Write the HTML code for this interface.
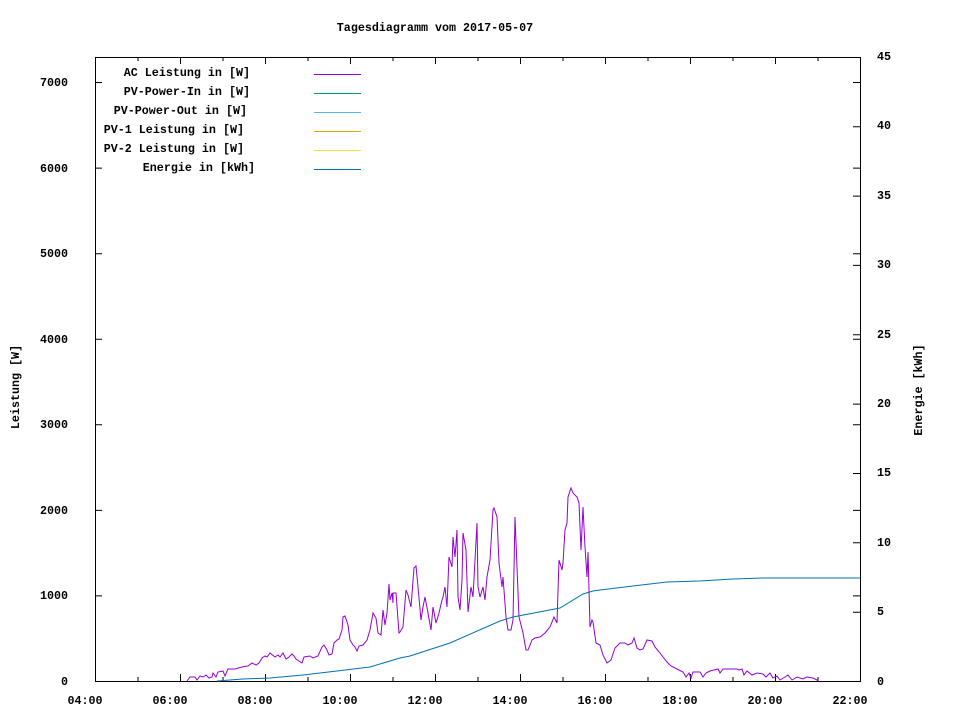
<!DOCTYPE html>
<html><head><meta charset="utf-8"><style>
body{margin:0;background:#fff;}
svg text{font-family:"Liberation Mono",monospace;font-weight:bold;font-size:11.7px;fill:#000;}
</style></head><body>
<svg width="960" height="720" viewBox="0 0 960 720" xmlns="http://www.w3.org/2000/svg">
<rect width="960" height="720" fill="#fff"/>
<text x="435" y="31" text-anchor="middle">Tagesdiagramm vom 2017-05-07</text>
<path fill="none" stroke="#000" stroke-width="1" d="
M95.5,681V674 M138,681V677 M180.5,681V674 M223,681V677 M265.5,681V674 M308,681V677 M350.5,681V674 M393,681V677 M435.5,681V674 M478,681V677 M520.5,681V674 M563,681V677 M605.5,681V674 M648,681V677 M690.5,681V674 M733,681V677 M775.5,681V674 M818,681V677 M860.5,681V674
M95.5,57V64 M138,57V61 M180.5,57V64 M223,57V61 M265.5,57V64 M308,57V61 M350.5,57V64 M393,57V61 M435.5,57V64 M478,57V61 M520.5,57V64 M563,57V61 M605.5,57V64 M648,57V61 M690.5,57V64 M733,57V61 M775.5,57V64 M818,57V61 M860.5,57V64
M95,595.9H102 M95,510.4H102 M95,424.8H102 M95,339.2H102 M95,253.7H102 M95,168.1H102 M95,82.5H102
M860,595.9H853 M860,510.4H853 M860,424.8H853 M860,339.2H853 M860,253.7H853 M860,168.1H853 M860,82.5H853
M860,612.2H853 M860,542.8H853 M860,473.5H853 M860,404.1H853 M860,334.8H853 M860,265.4H853 M860,196.1H853 M860,126.7H853"/>
<rect x="95.5" y="57.5" width="765" height="624" fill="none" stroke="#000"/>
<g text-anchor="end">
<text x="68" y="685">0</text><text x="68" y="599">1000</text><text x="68" y="514">2000</text><text x="68" y="428">3000</text><text x="68" y="343">4000</text><text x="68" y="257">5000</text><text x="68" y="172">6000</text><text x="68" y="86">7000</text>
</g>
<g text-anchor="start">
<text x="877" y="685">0</text><text x="877" y="615">5</text><text x="877" y="546">10</text><text x="877" y="476">15</text><text x="877" y="407">20</text><text x="877" y="338">25</text><text x="877" y="268">30</text><text x="877" y="199">35</text><text x="877" y="129">40</text><text x="877" y="60">45</text>
</g>
<g text-anchor="middle">
<text x="85" y="704">04:00</text><text x="170" y="704">06:00</text><text x="255" y="704">08:00</text><text x="340" y="704">10:00</text><text x="425" y="704">12:00</text><text x="510" y="704">14:00</text><text x="595" y="704">16:00</text><text x="680" y="704">18:00</text><text x="765" y="704">20:00</text><text x="850" y="704">22:00</text>
</g>
<text transform="translate(19,387) rotate(-90)" text-anchor="middle">Leistung [W]</text>
<text transform="translate(922,390) rotate(-90)" text-anchor="middle">Energie [kWh]</text>
<g text-anchor="end">
<text x="250" y="76">AC Leistung in [W]</text>
<text x="250" y="95">PV-Power-In in [W]</text>
<text x="247" y="114">PV-Power-Out in [W]</text>
<text x="244" y="133">PV-1 Leistung in [W]</text>
<text x="244" y="152">PV-2 Leistung in [W]</text>
<text x="255" y="171">Energie in [kWh]</text>
</g>
<line x1="314" y1="74.5" x2="361" y2="74.5" stroke="#9400d3"/>
<line x1="314" y1="93.5" x2="361" y2="93.5" stroke="#009e73"/>
<line x1="314" y1="112.5" x2="361" y2="112.5" stroke="#56b4e9"/>
<line x1="314" y1="131.5" x2="361" y2="131.5" stroke="#e69f00"/>
<line x1="314" y1="150.5" x2="361" y2="150.5" stroke="#f0e442"/>
<line x1="314" y1="169.5" x2="361" y2="169.5" stroke="#0072b2"/>
<polyline fill="none" stroke="#9400d3" stroke-width="1" points="187,681 190,677 195,677 197,680 200,676 203,677 206,675 209,678 212,677 213,673 216,677 218,672 223,671 225,676 228,669 235,669 242,667 248,666 252,663 256,665 259,663 262,658 265,656 267,657 270,653 275,657 278,655 280,657 283,653 286,659 289,657 292,654 294,656 296,659 302,663 304,657 310,656 313,658 318,656 322,647 324,645 327,650 329,655 332,654 334,643 337,640 339,639 342,630 343,617 345,616 348,625 350,640 353,645 355,647 357,651 359,646 363,645 367,640 370,630 373,613 376,618 378,633 381,635 383,610 385,625 387,613 389,584 390,600 392,593 393,603 393,593 396,593 399,633 400,632 403,627 406,590 408,595 411,607 414,568 416,566 418,587 421,620 423,607 425,597 428,613 431,630 433,607 436,623 439,613 442,600 443,597 445,587 447,607 449,557 452,567 453,537 455,557 457,530 458,597 460,610 462,580 463,533 466,550 468,612 471,587 473,597 477,523 478,587 480,597 483,587 485,600 487,577 490,560 493,510 494,508 497,517 499,563 502,587 503,577 506,617 508,630 511,630 513,620 515,517 517,567 519,617 523,633 526,650 528,650 532,640 535,638 540,637 545,633 550,627 554,617 557,623 559,560 562,570 563,563 565,530 567,523 568,497 571,488 573,493 577,497 579,503 581,550 583,507 585,547 587,577 588,552 590,627 592,620 593,622 596,643 600,645 603,655 607,663 611,660 615,648 620,643 625,643 628,645 632,643 634,638 637,648 640,650 643,649 647,640 652,641 655,647 660,653 663,657 667,662 671,666 677,669 683,672 686,677 689,673 691,678 693,672 700,672 703,677 706,673 710,671 718,669 720,673 723,669 737,669 739,670 742,669 744,675 747,671 752,675 757,673 763,674 766,677 770,673 773,678 777,676 780,680 785,677 788,675 792,680 797,677 803,679 807,677 813,678 817,680 818,681"/>
<polyline fill="none" stroke="#0072b2" stroke-width="1" points="217,681 243,679 270,678 303,675 337,671 370,667 400,658 410,656 450,643 500,621 513,617 560,608 583,594 593,591 600,590 633,586 667,582 700,581 733,579 763,578 860,578"/>
</svg>
</body></html>
